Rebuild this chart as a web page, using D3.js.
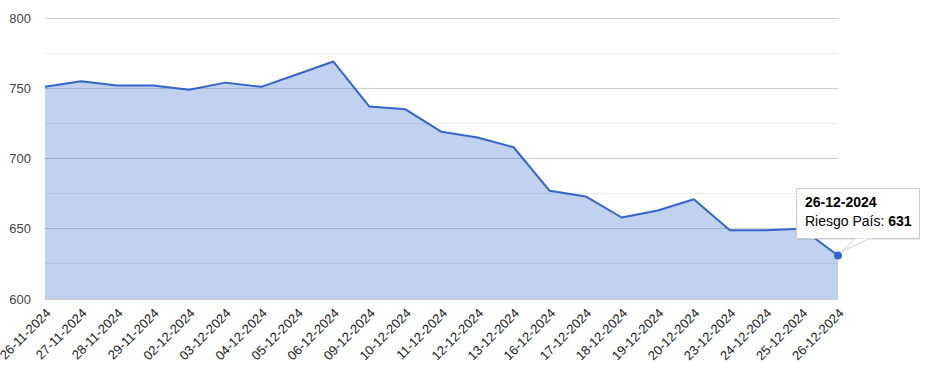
<!DOCTYPE html>
<html><head><meta charset="utf-8">
<script src="https://cdn.jsdelivr.net/npm/d3@7"></script>
<style>
html,body{margin:0;padding:0;background:#fff;}
svg{display:block;font-family:Arial,"Liberation Sans",sans-serif;}
</style></head>
<body>
<svg id="chart" width="929" height="380"></svg>
<script>
const dates = ["26-11-2024","27-11-2024","28-11-2024","29-11-2024","02-12-2024","03-12-2024","04-12-2024","05-12-2024","06-12-2024","09-12-2024","10-12-2024","11-12-2024","12-12-2024","13-12-2024","16-12-2024","17-12-2024","18-12-2024","19-12-2024","20-12-2024","23-12-2024","24-12-2024","25-12-2024","26-12-2024"];
const riesgo = [751,755,752,752,749,754,751,760,769,737,735,719,715,708,677,673,658,663,671,649,649,650,631];
const yTicks = [600,650,700,750,800];
const yMinor = [625,675,725,775];
const seriesName = "Riesgo País";

const svg = d3.select("#chart");
const L = 45, R = 838, T = 18, B = 299;
const x = d3.scalePoint().domain(dates).range([L, R]);
const y = d3.scaleLinear().domain([600, 800]).range([B, T]);

// minor gridlines
svg.append("g").selectAll("line").data(yMinor).join("line")
  .attr("x1", L).attr("x2", R).attr("y1", d => y(d)).attr("y2", d => y(d))
  .attr("stroke", "#ebebeb").attr("stroke-width", 1).attr("shape-rendering","crispEdges");
// major gridlines
svg.append("g").selectAll("line").data(yTicks).join("line")
  .attr("x1", L).attr("x2", R).attr("y1", d => y(d)).attr("y2", d => y(d))
  .attr("stroke", "#cccccc").attr("stroke-width", 1).attr("shape-rendering","crispEdges");

// y labels via axis
const yAxis = svg.append("g").attr("transform", `translate(${L},0)`)
  .call(d3.axisLeft(y).tickValues(yTicks).tickSize(0).tickPadding(14));
yAxis.select(".domain").remove();
yAxis.selectAll("text").attr("font-size", 13).attr("fill", "#444")
  .attr("font-family", "Arial, 'Liberation Sans', sans-serif");

const data = dates.map((d, i) => ({d, v: riesgo[i]}));

// area
svg.append("path").datum(data)
  .attr("d", d3.area().x(p => x(p.d)).y0(y(600)).y1(p => y(p.v)))
  .attr("fill", "#3366cc").attr("fill-opacity", 0.3);
// line
svg.append("path").datum(data)
  .attr("d", d3.line().x(p => x(p.d)).y(p => y(p.v)))
  .attr("fill", "none").attr("stroke", "#3366cc").attr("stroke-width", 2)
  .attr("stroke-linejoin", "round");

// x labels
const xAxis = svg.append("g").attr("transform", `translate(0,${B})`)
  .call(d3.axisBottom(x).tickSize(0).tickPadding(0));
xAxis.select(".domain").remove();
xAxis.selectAll("text")
  .attr("font-size", 13).attr("fill", "#222")
  .attr("font-family", "Arial, 'Liberation Sans', sans-serif")
  .attr("text-anchor", "end").attr("dy", 0).attr("y", 0)
  .attr("transform", "translate(6,15) rotate(-45)");

// highlighted point + tooltip
const last = data[data.length - 1];
const px = x(last.d), py = y(last.v);
svg.append("circle").attr("cx", px).attr("cy", py).attr("r", 4)
  .attr("fill", "#3366cc");

const bx = 796, by = 188, bw = 123, bh = 50;
const tip = svg.append("g");
tip.append("rect").attr("x", bx+1).attr("y", by+2).attr("width", bw).attr("height", bh)
  .attr("fill", "rgba(0,0,0,0.08)");
tip.append("path")
  .attr("d", `M${px+4},${py-4} L${bx+60},${by+bh} L${bx+75},${by+bh} Z`)
  .attr("fill", "#fff").attr("stroke", "#d6d6d6");
tip.append("rect").attr("x", bx+0.5).attr("y", by+0.5).attr("width", bw).attr("height", bh)
  .attr("fill", "#fff").attr("stroke", "#cccccc");
tip.append("path")
  .attr("d", `M${bx+59},${by+bh-0.5} L${bx+76},${by+bh-0.5}`)
  .attr("stroke", "#fff").attr("stroke-width", 2);
tip.append("text").attr("x", bx+9).attr("y", by+19).attr("font-size", 14)
  .attr("font-weight", "bold").attr("fill", "#000").text(last.d);
const t2 = tip.append("text").attr("x", bx+9).attr("y", by+38).attr("font-size", 14).attr("fill", "#000");
t2.append("tspan").text(seriesName + ": ");
t2.append("tspan").attr("font-weight", "bold").text(last.v);
</script>
</body></html>
